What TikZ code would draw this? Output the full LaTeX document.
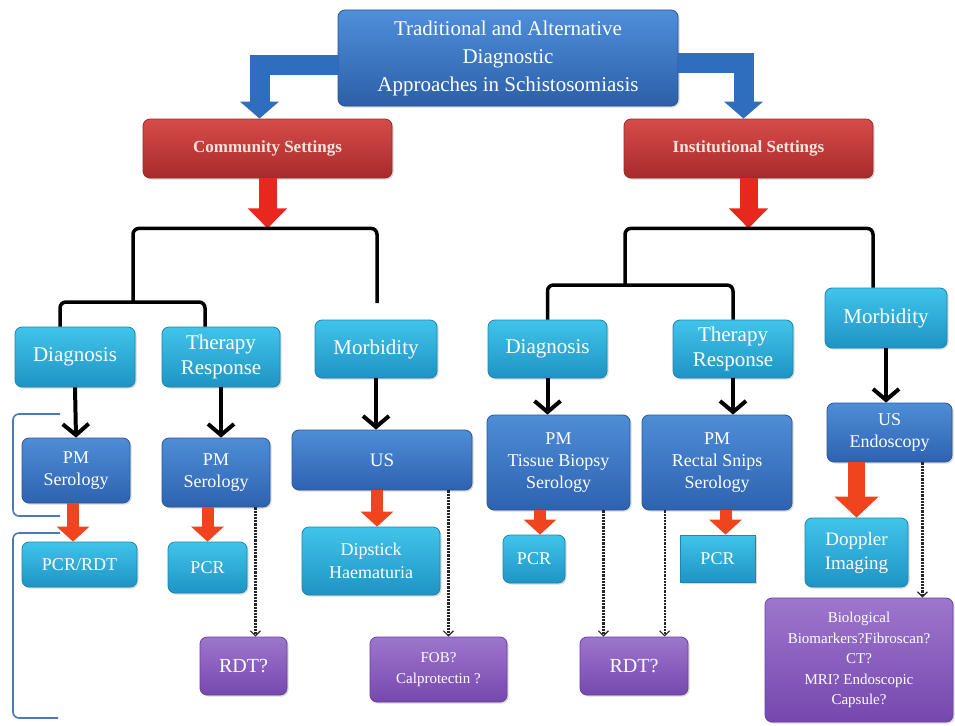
\documentclass[tikz,border=0pt]{standalone}
\usepackage{fontspec}
\setmainfont{Liberation Serif}
\usetikzlibrary{arrows.meta,calc,shadows}
\definecolor{titletop}{HTML}{4F8FDB}
\definecolor{titlebot}{HTML}{2C5FA8}
\definecolor{titleline}{HTML}{2A5590}
\definecolor{redtop}{HTML}{D64C4A}
\definecolor{redbot}{HTML}{A82A2A}
\definecolor{redline}{HTML}{9A2A28}
\definecolor{cyantop}{HTML}{40C4EA}
\definecolor{cyanbot}{HTML}{1E94C4}
\definecolor{cyanline}{HTML}{1C86B0}
\definecolor{bluetop}{HTML}{4E8DD7}
\definecolor{bluebot}{HTML}{2E62B0}
\definecolor{blueline}{HTML}{2A5898}
\definecolor{purptop}{HTML}{9D76CD}
\definecolor{purpbot}{HTML}{7648AE}
\definecolor{purpline}{HTML}{6A40A0}
\definecolor{arrowblue}{HTML}{2F6DBE}
\definecolor{arrowred}{HTML}{E8281E}
\definecolor{arroworange}{HTML}{F0441E}
\definecolor{bracketblue}{HTML}{4A78B8}
\definecolor{lightpink}{HTML}{F8E4DC}
\tikzset{
  basebox/.style={rounded corners=7pt, inner sep=0pt, align=center, line width=0.8pt,
    drop shadow={shadow xshift=1.5pt, shadow yshift=-1.5pt, opacity=0.3}},
  titlebox/.style={basebox, top color=titletop, bottom color=titlebot, draw=titleline,
    text=white, font=\fontsize{21}{28}\selectfont},
  redbox/.style={basebox, top color=redtop, bottom color=redbot, draw=redline,
    text=lightpink, font=\fontsize{17}{20}\selectfont\bfseries},
  cyanbox/.style={basebox, top color=cyantop, bottom color=cyanbot, draw=cyanline,
    text=white, font=\fontsize{21}{25}\selectfont},
  cyansmall/.style={basebox, top color=cyantop, bottom color=cyanbot, draw=cyanline,
    text=white, font=\fontsize{18}{23}\selectfont},
  bluebox/.style={basebox, top color=bluetop, bottom color=bluebot, draw=blueline,
    text=white, font=\fontsize{18}{22}\selectfont},
  purpbox/.style={basebox, top color=purptop, bottom color=purpbot, draw=purpline,
    text=white, font=\fontsize{20}{24}\selectfont},
  purpsmall/.style={basebox, top color=purptop, bottom color=purpbot, draw=purpline,
    text=white, font=\fontsize{15}{20.5}\selectfont},
  bigblue/.style={draw=arrowblue, line width=20pt, -{Triangle[length=17pt,width=38pt]}},
  bigred/.style={draw=arrowred, line width=18pt, -{Triangle[length=20pt,width=38pt]}},
  smallred/.style={draw=arroworange, line width=12pt, -{Triangle[length=15pt,width=32pt]}},
  widered/.style={draw=arroworange, line width=17pt, -{Triangle[length=21pt,width=43pt]}},
  treeline/.style={draw=black, line width=3.5pt, rounded corners=6pt},
  blackarrow/.style={draw=black, line width=4pt, -{Straight Barb[length=11pt,width=26pt,line width=4pt]}},
  dotarrow/.style={draw=black!85, line width=2.2pt, densely dotted, -{Straight Barb[length=5pt,width=10pt,line width=1.2pt]}},
  bracketline/.style={draw=bracketblue, line width=1.6pt, rounded corners=6pt},
}
\begin{document}
\begin{tikzpicture}[x=1pt,y=-1pt]
\useasboundingbox (0,0) rectangle (955,725);
\fill[white] (0,0) rectangle (955,725);

% title and settings
\node[titlebox, minimum width=340, minimum height=96] (title) at (508,58)
  {Traditional and Alternative\\Diagnostic\\Approaches in Schistosomiasis};
\node[redbox, minimum width=249, minimum height=59] (comm) at (267.5,148.5) {Community Settings};
\node[redbox, minimum width=249, minimum height=59] (inst) at (748.5,148.5) {Institutional Settings};

% level 3
\node[cyanbox, minimum width=120, minimum height=60] (cdiag) at (75,357) {Diagnosis};
\node[cyanbox, minimum width=118, minimum height=60] (cther) at (221,357) {Therapy\\Response};
\node[cyanbox, minimum width=122, minimum height=58] (cmor) at (376,349) {Morbidity};
\node[cyanbox, minimum width=119, minimum height=58] (idiag) at (547.5,349) {Diagnosis};
\node[cyanbox, minimum width=120, minimum height=58] (ither) at (733,349) {Therapy\\Response};
\node[cyanbox, minimum width=122, minimum height=60] (imor) at (886,318) {Morbidity};

% level 4
\node[bluebox, minimum width=108, minimum height=65] (cpm) at (76,470.5) {PM\\Serology};
\node[bluebox, minimum width=108, minimum height=69] (cpm2) at (216,472.5) {PM\\Serology};
\node[bluebox, minimum width=180, minimum height=60, font=\fontsize{19}{22}\selectfont] (cus) at (382,460) {US};
\node[bluebox, minimum width=143, minimum height=95] (ipm1) at (558.5,462.5) {PM\\Tissue Biopsy\\Serology};
\node[bluebox, minimum width=150, minimum height=95] (ipm2) at (717,462.5) {PM\\Rectal Snips\\Serology};
\node[bluebox, minimum width=125, minimum height=59] (iusen) at (889.5,432.5) {US\\Endoscopy};

% level 5
\node[cyansmall, minimum width=115, minimum height=45] (cpcr) at (79.5,564.5) {PCR/RDT};
\node[cyansmall, minimum width=79, minimum height=51] (cpcr2) at (207.5,567.5) {PCR};
\node[cyansmall, minimum width=138, minimum height=68] (cdip) at (371,561) {Dipstick\\Haematuria};
\node[cyansmall, minimum width=62, minimum height=48] (ipcr1) at (534,559) {PCR};
\node[cyansmall, minimum width=75, minimum height=47, sharp corners] (ipcr2) at (717.5,558.5) {PCR};
\node[cyansmall, minimum width=103, minimum height=69, font=\fontsize{19}{24}\selectfont] (idop) at (856.5,552.5) {Doppler\\Imaging};

% purple
\node[purpbox, minimum width=87, minimum height=58] (crdt) at (243.5,666) {RDT?};
\node[purpsmall, minimum width=137, minimum height=65, font=\fontsize{15}{21}\selectfont] (cfob) at (438.5,669.5) {FOB?\\Calprotectin ?};
\node[purpbox, minimum width=108, minimum height=58] (irdt) at (634,666) {RDT?};
\node[purpsmall, minimum width=188, minimum height=124] (ibio) at (859,660)
  {Biological\\Biomarkers?Fibroscan?\\CT?\\MRI? Endoscopic\\Capsule?};

% blue elbow arrows
\draw[bigblue] ($(title.west)+(0,7)$) -| ($(comm.north)+(-8,0)$);
\draw[bigblue] ($(title.east)+(0,5)$) -| ($(inst.north)+(-5,0)$);

% red arrows down to the trees
\coordinate (cbar) at ($(comm.south)+(0,50)$);
\coordinate (ibar) at ($(inst.south)+(0,50)$);
\draw[bigred] (comm.south) -- (cbar);
\draw[bigred] (inst.south) -- (ibar);

% community tree
\coordinate (cjoin) at (133,302);
\coordinate (cend) at (377,303);
\draw[treeline] ($(cdiag.north)+(-15,0)$) |- (cjoin) -| ($(cther.north)+(-16,0)$);
\draw[treeline] (cjoin) |- (cbar) -| (cend);

% institutional tree
\coordinate (ijoin) at (625,285);
\draw[treeline] (idiag.north) |- (ijoin) -| (ither.north);
\draw[treeline] (ijoin) |- (ibar) -| ($(imor.north)+(-13,0)$);

% black arrows
\draw[blackarrow] (cdiag.south) -- (cpm.north);
\draw[blackarrow] (cther.south) -- (cther.south |- cpm2.north);
\draw[blackarrow] (cmor.south) -- (cmor.south |- cus.north);
\draw[blackarrow] (idiag.south) -- (idiag.south |- ipm1.north);
\draw[blackarrow] (ither.south) -- (ither.south |- ipm2.north);
\draw[blackarrow] (imor.south) -- (imor.south |- iusen.north);

% small red arrows
\coordinate (r1) at ($(cpm.south)+(-3,0)$);
\coordinate (r3) at ($(cus.south)+(-5,0)$);
\coordinate (r4) at ($(ipcr1.north)+(6,0)$);
\coordinate (r5) at ($(ipcr2.north)+(8,0)$);
\draw[smallred] (r1) -- (r1 |- cpcr.north);
\draw[smallred] (cpcr2.north |- cpm2.south) -- (cpcr2.north);
\draw[smallred] (r3) -- (r3 |- cdip.north);
\draw[smallred] (r4 |- ipm1.south) -- (r4);
\draw[smallred] (r5 |- ipm2.south) -- (r5);
\draw[widered] (idop.north |- iusen.south) -- (idop.north);

% dotted arrows
\coordinate (d1) at ($(cpm2.south east)+(-15,0)$);
\coordinate (d2) at ($(cus.south east)+(-24,0)$);
\coordinate (d3) at ($(ipm1.south east)+(-27,0)$);
\coordinate (d4) at ($(ipm2.south west)+(23,0)$);
\coordinate (d5) at ($(iusen.south east)+(-30,0)$);
\draw[dotarrow] (d1) -- (d1 |- crdt.north);
\draw[dotarrow] (d2) -- (d2 |- cfob.north);
\draw[dotarrow] (d3) -- (d3 |- irdt.north);
\draw[dotarrow] (d4) -- (d4 |- irdt.north);
\draw[dotarrow] (d5) -- (d5 |- ibio.north);

% blue brackets on the left
\draw[bracketline] (60,414) -- (13,414) -- (13,516) -- (60,516);
\draw[bracketline] (60,533) -- (13,533) -- (13,718) -- (58,718);
\end{tikzpicture}
\end{document}
